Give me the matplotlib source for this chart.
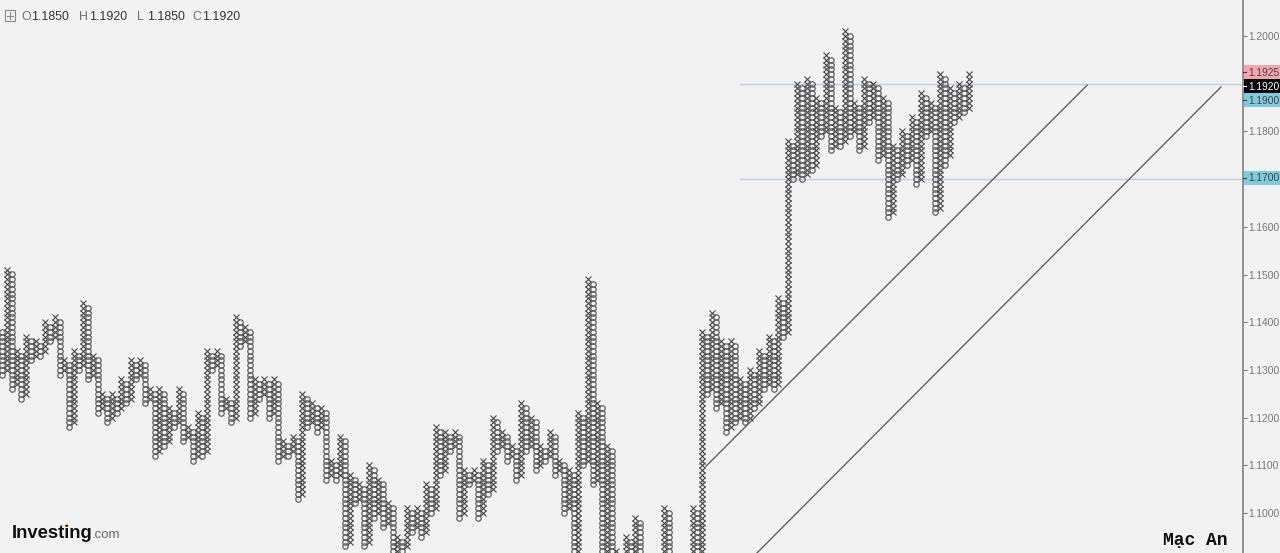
import matplotlib
matplotlib.use("Agg")
import matplotlib.pyplot as plt
from matplotlib.patches import Rectangle
from matplotlib.lines import Line2D

W, H = 1280, 553
BG = "#f2f2f2"

box_size = 0.0010
base_price = 1.1000
# Point & figure columns, alternating O (even) and X (odd); boxes counted from 1.1000
col_top = [
 38,51,50,34,33,37,36,36,35,40,39,41,40,32,31,34,33,44,43,33,
 32,25,24,25,24,28,27,32,31,32,31,26,25,26,25,22,21,26,25,18,
 17,21,20,34,33,34,33,24,23,41,40,39,38,28,27,28,27,28,27,15,
 14,16,15,25,24,23,22,22,21,11,10,16,15,8,7,6,5,10,9,7,
 6,2,1,-5,-6,1,0,1,0,6,5,18,17,17,16,17,16,9,8,9,
 8,11,10,20,19,17,16,14,13,23,22,20,19,14,13,17,16,11,10,9,
 8,21,20,49,48,23,22,14,13,-8,-10,-5,-6,-1,-2,-10,-11,-10,-11,1,
 0,-10,-11,-10,-11,1,0,38,37,42,41,36,35,36,35,28,27,30,29,34,
 33,37,36,45,44,78,77,90,89,91,90,87,86,96,95,85,84,101,100,86,
 85,91,90,90,89,87,86,77,76,80,79,83,82,88,87,86,85,92,91,89,
 88,90,89,92,
]
col_bottom = [
 29,30,26,27,24,25,32,33,33,34,36,37,29,30,18,19,30,31,28,29,
 21,22,19,20,21,22,23,24,28,29,23,24,12,13,14,15,18,19,15,16,
 11,12,12,13,30,31,21,22,19,20,35,36,20,21,24,25,20,21,11,12,
 12,13,3,4,18,19,17,18,7,8,7,8,-7,-6,2,3,-7,-6,-1,0,
 -3,-2,-12,-12,-12,-7,-4,-3,-5,-4,0,1,8,9,13,14,-1,0,6,7,
 -1,0,4,5,13,14,11,12,7,8,13,14,9,10,11,12,8,9,0,1,
 -12,-12,10,11,6,7,-12,-12,-12,-12,-12,-12,-12,-12,-12,-12,-13,-12,-13,-12,
 -12,-12,-13,-12,-13,-12,-12,-12,25,26,22,23,17,18,19,20,19,20,22,23,
 26,27,26,27,37,38,70,71,70,71,72,73,79,80,76,77,77,78,79,80,
 76,77,82,83,74,75,62,63,70,71,73,74,69,70,79,80,63,64,73,75,
 82,83,84,85,
]

# drawn lines
trend1_col = [147.8, 227.9]
trend1_price = [1.1098, 1.1897]
trend2_col = [158.5, 256.0]
trend2_price = [1.0916, 1.1893]
hline_prices = [1.1900, 1.1700]
hline_start_col = 155.0

y_ticks = [1.1000, 1.1100, 1.1200, 1.1300, 1.1400, 1.1500, 1.1600, 1.1700,
           1.1800, 1.1900, 1.2000]
y_tick_hidden = [1.1700, 1.1900]
price_tags = [("1.1925", 72, "#f4a6b0", "#444444"),
              ("1.1920", 86, "#000000", "#ffffff"),
              ("1.1900", 100, "#7fccdc", "#444444"),
              ("1.1700", 178, "#7fccdc", "#444444")]
ohlc_labels = [("O", 21, "1.1850", 31), ("H", 79, "1.1920", 89),
               ("L", 137, "1.1850", 147), ("C", 192, "1.1920", 202)]

plt.rcParams["font.family"] = ["Liberation Sans", "DejaVu Sans"]
fig = plt.figure(figsize=(W / 100, H / 100), dpi=100, facecolor=BG)
ax_right = 1243
ax = fig.add_axes([0, 0, ax_right / W, 1], facecolor=BG)

col_step = 4.76
col_origin = 2.4
ax.set_xlim(-col_origin / col_step, (ax_right - col_origin) / col_step)
px_per_price = 4770.0
ax.set_ylim(1.2 - (553 - 36) / px_per_price, 1.2 + 36 / px_per_price)

for i, (top, bottom) in enumerate(zip(col_top, col_bottom)):
    xs, ys = [], []
    for n in range(bottom, top + 1):
        xs.append(i)
        ys.append(base_price + n * box_size)
    if i % 2:
        ax.plot(xs, ys, ls="none", marker="x", ms=3.7, mew=0.8, color="#484848", zorder=3)
    else:
        ax.plot(xs, ys, ls="none", marker="o", ms=3.9, mew=0.9, mfc="none", mec="#606060", zorder=3)

ax.plot(trend1_col, trend1_price, color="#5a5a5a", lw=0.95, zorder=2)
ax.plot(trend2_col, trend2_price, color="#5a5a5a", lw=0.95, zorder=2)
for p in hline_prices:
    ax.plot([hline_start_col, ax.get_xlim()[1]], [p, p], color="#b4d4e2", lw=1.0, zorder=1)

for s in ["top", "left", "bottom"]:
    ax.spines[s].set_visible(False)
ax.spines["right"].set_color("#8a8a8a")
ax.spines["right"].set_linewidth(1.3)
ax.yaxis.tick_right()
ax.set_xticks([])
ax.set_yticks(y_ticks)
ax.set_yticklabels([("" if t in y_tick_hidden else f"{t:.4f}") for t in y_ticks])
ax.tick_params(axis="y", length=3, width=0.8, color="#777777", labelcolor="#777777",
               labelsize=7.4, pad=0.6)


def fx(x):
    return x / W


def fy(y):
    return 1 - y / H


# price tags on the axis
for label, y, bg, fg in price_tags:
    fig.patches.append(Rectangle((fx(ax_right + 0.5), fy(y + 7)), (W - ax_right) / W, 14 / H,
                                 transform=fig.transFigure, facecolor=bg, edgecolor="none"))
    fig.text(fx(1248), fy(y + 0.5), label, fontsize=7.4, color=fg, va="center", ha="left")
    fig.add_artist(Line2D([fx(ax_right), fx(ax_right + 3)], [fy(y), fy(y)], color=fg, lw=0.8))

# OHLC header
fig.patches.append(Rectangle((fx(5), fy(21)), 10 / W, 11 / H, transform=fig.transFigure,
                             facecolor="none", edgecolor="#8a8a8a", lw=0.8))
fig.add_artist(Line2D([fx(7), fx(13)], [fy(15.5), fy(15.5)], color="#8a8a8a", lw=0.8))
fig.add_artist(Line2D([fx(10), fx(10)], [fy(12), fy(19)], color="#8a8a8a", lw=0.8))
for letter, lx, value, vx in ohlc_labels:
    fig.text(fx(lx), fy(17), letter, fontsize=8.9, color="#6e6e6e", va="center", ha="left")
    fig.text(fx(vx), fy(17), value, fontsize=8.9, color="#333333", va="center", ha="left")

# logo
fig.text(fx(11.5), fy(533), "Investing", family="Liberation Sans", fontweight="bold",
         fontsize=13.2, color="#111111", va="center", ha="left")
fig.text(fx(91.5), fy(534.5), ".com", family="Liberation Sans", fontsize=9.5,
         color="#666666", va="center", ha="left")
fig.add_artist(Line2D([fx(66)], [fy(525)], marker="o", ms=2.0, color="#f5a623", mew=0))

# signature
fig.text(fx(1163), fy(541), "Mạc An", family="Liberation Mono", fontweight="bold", fontsize=13,
         color="#111111", va="center", ha="left")

fig.savefig("out.png", dpi=100, facecolor=BG)
